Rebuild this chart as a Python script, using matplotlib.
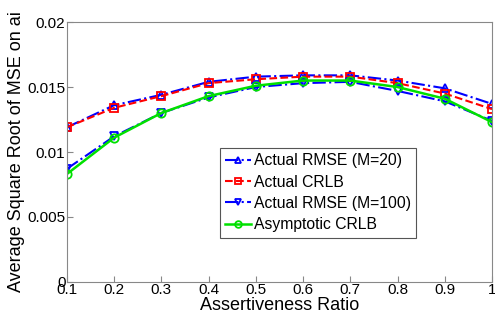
import numpy as np
import matplotlib
matplotlib.use("Agg")
import matplotlib.pyplot as plt

plt.rcParams['font.family'] = ['Liberation Sans', 'DejaVu Sans']

ratio = [0.1, 0.2, 0.3, 0.4, 0.5, 0.6, 0.7, 0.8, 0.9, 1.0]
rmse_m20 = [0.0119, 0.0136, 0.0144, 0.0154, 0.0158, 0.0159, 0.0159, 0.0155, 0.0149, 0.0137]
crlb_actual = [0.0119, 0.0134, 0.0143, 0.0153, 0.0156, 0.0158, 0.0158, 0.0153, 0.0145, 0.0133]
rmse_m100 = [0.0087, 0.0112, 0.0130, 0.0142, 0.0150, 0.0153, 0.0154, 0.0147, 0.0139, 0.0124]
crlb_asym = [0.0083, 0.0111, 0.0130, 0.0143, 0.0151, 0.0155, 0.0155, 0.0150, 0.0141, 0.0123]

fig = plt.figure(figsize=(4.95, 3.2), dpi=100)
ax = fig.add_axes([0.135, 0.119, 0.859, 0.812])

ax.plot(ratio, rmse_m20, "-.", color="blue", marker="^", markersize=6,
        markerfacecolor="none", markeredgewidth=1.3, lw=1.5, label="Actual RMSE (M=20)")
ax.plot(ratio, crlb_actual, "--", color="red", marker="s", markersize=6,
        markerfacecolor="none", markeredgewidth=1.3, lw=1.5, label="Actual CRLB")
ax.plot(ratio, rmse_m100, "-.", color="blue", marker="v", markersize=6,
        markerfacecolor="none", markeredgewidth=1.3, lw=1.5, label="Actual RMSE (M=100)")
ax.plot(ratio, crlb_asym, "-", color="#00e000", marker="o", markersize=6,
        markerfacecolor="none", markeredgewidth=1.3, lw=1.8, label="Asymptotic CRLB")

ax.set_xlim(0.1, 1.0)
ax.set_ylim(0, 0.02)
ax.set_xticks(ratio)
ax.set_xticklabels(["0.1", "0.2", "0.3", "0.4", "0.5", "0.6", "0.7", "0.8", "0.9", "1"])
ax.set_yticks([0, 0.005, 0.01, 0.015, 0.02])
ax.set_yticklabels(["0", "0.005", "0.01", "0.015", "0.02"])
ax.tick_params(direction="in", labelsize=11, length=4, color="#888888", pad=1)
for s in ax.spines.values():
    s.set_color("#888888")

ax.set_xlabel("Assertiveness Ratio", fontsize=13, labelpad=0)
ax.set_ylabel("Average Square Root of MSE on ai", fontsize=13, labelpad=2)

leg = ax.legend(loc="lower left", bbox_to_anchor=(0.36, 0.17), fontsize=11.3,
                fancybox=False, framealpha=1, edgecolor="#555555",
                handlelength=1.6, handletextpad=0.2, borderpad=0.35,
                labelspacing=0.4, borderaxespad=0, markerscale=0.8)
leg.get_frame().set_linewidth(0.8)

fig.savefig("out.png", dpi=100)
